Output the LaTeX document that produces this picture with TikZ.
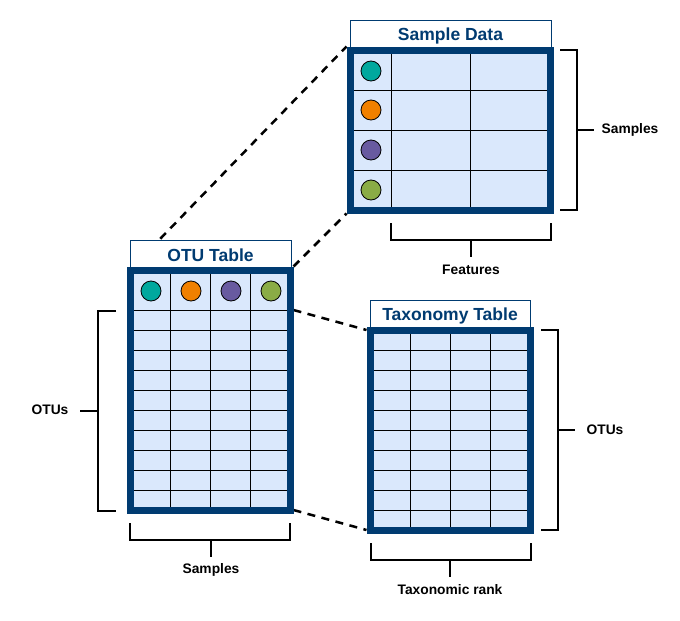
\documentclass[tikz,border=0pt]{standalone}
\usepackage{fontspec}
\setmainfont{Liberation Sans}
\definecolor{bblue}{RGB}{0,59,113}
\definecolor{lblue}{RGB}{218,232,252}
\definecolor{cteal}{RGB}{0,168,158}
\definecolor{corange}{RGB}{240,128,0}
\definecolor{cpurple}{RGB}{104,90,160}
\definecolor{cgreen}{RGB}{138,172,70}
\tikzset{
  tabfill/.style={fill=lblue, inner sep=0pt, outer sep=0pt},
  tabborder/.style={draw=bblue, line width=7pt},
  gridline/.style={black, line width=0.8pt},
  titlebox/.style={draw=bblue, fill=white, line width=1pt},
  titletext/.style={text=bblue, font=\fontsize{17.5}{20}\selectfont\bfseries, inner sep=0pt},
  lbl/.style={font=\fontsize{13.8}{16}\selectfont\bfseries, inner sep=0pt},
  brace/.style={black, line width=1.8pt},
  zoomline/.style={black, line width=2.5pt, dash pattern=on 8pt off 6.5pt},
  dot/.style={circle, draw=black, line width=0.8pt, minimum size=20pt, inner sep=0pt}
}
\begin{document}
\begin{tikzpicture}[x=1pt, y=-1pt]
\useasboundingbox (0,0) rectangle (680,621);

% ---- table bodies (fill) ----
\node[tabfill, minimum width=200pt, minimum height=160pt] (sd) at (450,130) {};
\node[tabfill, minimum width=160pt, minimum height=240pt] (otu) at (210,390) {};
\node[tabfill, minimum width=160pt, minimum height=200pt] (tax) at (450,430) {};

% ---- named corners ----
\coordinate (sdNW) at (346.5,46.5);
\coordinate (sdSW) at (346.5,213.5);
\coordinate (otuNWc) at (130,270);
\coordinate (otuNE) at (293.5,266.5);
\coordinate (otuE1) at (293.5,310);
\coordinate (otuE2) at (293.5,510);
\coordinate (taxW1) at (366.5,330);
\coordinate (taxW2) at (366.5,530);

% ---- dashed zoom lines ----
\draw[zoomline] (otuNWc) -- (sdNW);
\draw[zoomline] (otuNE) -- (sdSW);
\draw[zoomline] (otuE1) -- (taxW1);
\draw[zoomline] (otuE2) -- (taxW2);

% ---- title boxes ----
\draw[titlebox] (350,20) rectangle (551,50);
\node[titletext] (sdtitle) at (450.5,36) {Sample Data};
\draw[titlebox] (130,240) rectangle (291,270);
\node[titletext] (otutitle) at (210.5,255) {OTU Table};
\draw[titlebox] (370.5,300) rectangle (530,330);
\node[titletext] (taxtitle) at (450,316) {Taxonomy Table};

% ---- grids ----
% Sample data
\foreach \x in {391,470} \draw[gridline] (\x,53.5) -- (\x,206.5);
\foreach \y in {90,130,170} \draw[gridline] (353.5,\y) -- (546.5,\y);
% OTU table
\foreach \x in {170,210,250} \draw[gridline] (\x,273.5) -- (\x,506.5);
\foreach \y in {310,330,...,490} \draw[gridline] (133.5,\y) -- (286.5,\y);
% Taxonomy table
\foreach \x in {410,450,490} \draw[gridline] (\x,333.5) -- (\x,526.5);
\foreach \y in {350,370,...,510} \draw[gridline] (373.5,\y) -- (526.5,\y);

% ---- thick borders ----
\draw[tabborder] (350,50) rectangle (550,210);
\draw[tabborder] (130,270) rectangle (290,510);
\draw[tabborder] (370,330) rectangle (530,530);

% ---- circles ----
\node[dot, fill=cteal]   (s1) at (371,71) {};
\node[dot, fill=corange] (s2) at (371,110) {};
\node[dot, fill=cpurple] (s3) at (371,150) {};
\node[dot, fill=cgreen]  (s4) at (371,190) {};
\node[dot, fill=cteal]   (o1) at (151,291) {};
\node[dot, fill=corange] (o2) at (191,291) {};
\node[dot, fill=cpurple] (o3) at (231,291) {};
\node[dot, fill=cgreen]  (o4) at (271,291) {};

% ---- braces and labels ----
% Samples (right of sample data)
\draw[brace] (560,50) -- (577,50) -- (577,210) -- (560,210);
\coordinate (b1m) at (577,130);
\node[lbl] (lsamples1) at (630,130) {Samples};
\draw[brace] (b1m) -- (594,130);
% Features
\draw[brace] (391,223) -- (391,240) -- (551,240) -- (551,223);
\coordinate (b2m) at (471,240);
\node[lbl] (lfeatures) at (471,270) {Features};
\draw[brace] (b2m) -- (471,257);
% OTUs left
\draw[brace] (116,311) -- (98,311) -- (98,511) -- (116,511);
\coordinate (b3m) at (98,411);
\node[lbl] (lotus1) at (50,410) {OTUs};
\draw[brace] (b3m) -- (80,411);
% Samples below OTU
\draw[brace] (130,523) -- (130,540) -- (290,540) -- (290,523);
\coordinate (b4m) at (211,540);
\node[lbl] (lsamples2) at (211,570) {Samples};
\draw[brace] (b4m) -- (211,557);
% OTUs right of taxonomy
\draw[brace] (541,330) -- (558,330) -- (558,530) -- (541,530);
\coordinate (b5m) at (558,430);
\node[lbl] (lotus2) at (605,430) {OTUs};
\draw[brace] (b5m) -- (575,430);
% Taxonomic rank
\draw[brace] (371,543) -- (371,560) -- (531,560) -- (531,543);
\coordinate (b6m) at (450,560);
\node[lbl] (lrank) at (450,590) {Taxonomic rank};
\draw[brace] (b6m) -- (450,577);
\end{tikzpicture}
\end{document}
